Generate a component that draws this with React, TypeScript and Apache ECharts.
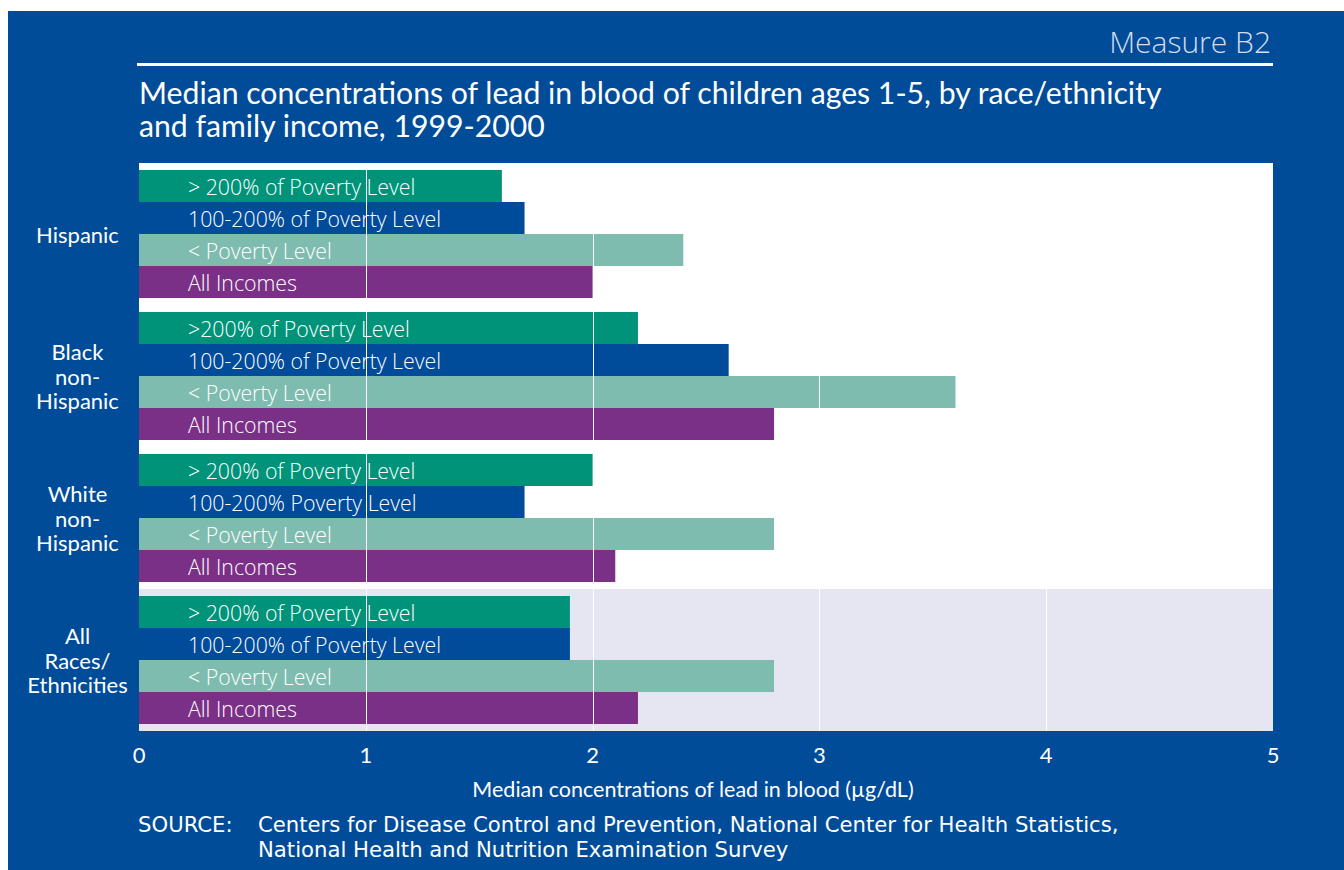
import React, { useEffect, useRef } from "react";
import * as echarts from "echarts";

const groups = ["Hispanic", "Black\nnon-\nHispanic", "White\nnon-\nHispanic", "All\nRaces/\nEthnicities"];
const barLabels = [
  ["> 200% of Poverty Level", "100-200% of Poverty Level", "< Poverty Level", "All Incomes"],
  [">200% of Poverty Level", "100-200% of Poverty Level", "< Poverty Level", "All Incomes"],
  ["> 200% of Poverty Level", "100-200% Poverty Level", "< Poverty Level", "All Incomes"],
  ["> 200% of Poverty Level", "100-200% of Poverty Level", "< Poverty Level", "All Incomes"],
];
const hispanic = [1.6, 1.7, 2.4, 2.0];
const blackNonHispanic = [2.2, 2.6, 3.6, 2.8];
const whiteNonHispanic = [2.0, 1.7, 2.8, 2.1];
const allRaces = [1.9, 1.9, 2.8, 2.2];
const groupValues = [hispanic, blackNonHispanic, whiteNonHispanic, allRaces];
const xTicks = [0, 1, 2, 3, 4, 5];
const gridValues = [1, 2, 3, 4];

const barColors = ["#00937A", "#004C9B", "#7FBCB0", "#7B3087"];
const bandColors = ["#FFFFFF", "#FFFFFF", "#FFFFFF", "#E6E6F2"];
const BG = "#004C99";
const FONT = "Lato, 'Open Sans', sans-serif";
const BAR_FONT = "'Open Sans', Lato, sans-serif";
const SOURCE_FONT = "'DejaVu Sans', Lato, sans-serif";

const BAR = 1;
const GAP = 0.4375;
const PAD = GAP / 2;
const SPAN = 4 * BAR + GAP;
const Y_MAX = groups.length * SPAN;

export default function App() {
  const ref = useRef<HTMLDivElement>(null);
  useEffect(() => {
    if (!ref.current) return;
    const chart = echarts.init(ref.current, null, { renderer: "svg" });

    const barData: any[] = [];
    const barText: string[] = [];
    groupValues.forEach((vals, gi) => {
      vals.forEach((v, k) => {
        barData.push([v, gi * SPAN + PAD + k * BAR, k]);
        barText.push(barLabels[gi][k]);
      });
    });

    const option: any = {
      animation: false,
      backgroundColor: BG,
      grid: { left: 131, top: 152, width: 1134, height: 568 },
      xAxis: {
        type: "value",
        min: 0,
        max: 5,
        interval: 1,
        axisLine: { show: false },
        axisTick: { show: false },
        splitLine: { show: false },
        axisLabel: {
          color: "#FFFFFF",
          fontSize: 22,
          fontFamily: FONT,
          margin: 12,
          formatter: (v: number) => (xTicks.includes(v) ? String(v) : ""),
        },
      },
      yAxis: {
        type: "value",
        min: 0,
        max: Y_MAX,
        inverse: true,
        show: false,
        splitLine: { show: false },
      },
      series: [
        {
          type: "custom",
          z: 1,
          silent: true,
          data: groups.map((_, gi) => [gi]),
          encode: { x: -1, y: 0 },
          renderItem: (params: any, api: any) => {
            const gi = api.value(0);
            const p0 = api.coord([0, gi * SPAN]);
            const p1 = api.coord([5, (gi + 1) * SPAN]);
            return {
              type: "rect",
              shape: { x: p0[0], y: p0[1], width: p1[0] - p0[0], height: p1[1] - p0[1] },
              style: { fill: bandColors[gi] },
            };
          },
        },
        {
          type: "custom",
          z: 2,
          silent: true,
          data: barData,
          encode: { x: 0, y: 1 },
          renderItem: (params: any, api: any) => {
            const v = api.value(0);
            const ys = api.value(1);
            const k = api.value(2);
            const p0 = api.coord([0, ys]);
            const p1 = api.coord([v, ys + BAR]);
            return {
              type: "group",
              children: [
                {
                  type: "rect",
                  shape: { x: p0[0], y: p0[1], width: p1[0] - p0[0], height: p1[1] - p0[1] },
                  style: { fill: barColors[k] },
                },
                {
                  type: "text",
                  style: {
                    text: barText[params.dataIndex],
                    x: p0[0] + 49,
                    y: (p0[1] + p1[1]) / 2 + 0.5,
                    fill: "#FFFFFF",
                    fontSize: 21.3,
                    fontWeight: 300,
                    fontFamily: BAR_FONT,
                    align: "left",
                    verticalAlign: "middle",
                  },
                },
              ],
            };
          },
        },
        {
          type: "custom",
          z: 3,
          silent: true,
          data: gridValues.map((v) => [v]),
          encode: { x: 0 },
          renderItem: (params: any, api: any) => {
            const v = api.value(0);
            const p0 = api.coord([v, 0]);
            const p1 = api.coord([v, Y_MAX]);
            return {
              type: "line",
              shape: { x1: Math.round(p0[0]) + 0.5, y1: p0[1], x2: Math.round(p0[0]) + 0.5, y2: p1[1] },
              style: { stroke: "#FFFFFF", lineWidth: 1 },
            };
          },
        },
        {
          type: "custom",
          z: 4,
          silent: true,
          clip: false,
          data: groups.map((_, gi) => [gi]),
          encode: { x: -1, y: 0 },
          renderItem: (params: any, api: any) => {
            const gi = api.value(0);
            const p = api.coord([0, gi * SPAN + SPAN / 2]);
            return {
              type: "text",
              style: {
                text: groups[gi],
                x: 69.5,
                y: p[1],
                fill: "#FFFFFF",
                fontSize: 22,
                lineHeight: 24.5,
                fontFamily: FONT,
                align: "center",
                verticalAlign: "middle",
              },
            };
          },
        },
      ],
      graphic: [
        {
          type: "text",
          right: 73,
          top: 15,
          style: {
            text: "Measure B2",
            fill: "#D5DCEC",
            fontSize: 30,
            fontWeight: 300,
            fontFamily: BAR_FONT,
          },
        },
        {
          type: "line",
          shape: { x1: 129, y1: 53.5, x2: 1265, y2: 53.5 },
          style: { stroke: "#FFFFFF", lineWidth: 3 },
        },
        {
          type: "text",
          x: 131,
          y: 80.5,
          style: {
            text: "Median concentrations of lead in blood of children ages 1-5, by race/ethnicity",
            fill: "#FFFFFF",
            fontSize: 30.2,
            fontFamily: FONT,
            verticalAlign: "middle",
          },
        },
        {
          type: "text",
          x: 131,
          y: 114,
          style: {
            text: "and family income, 1999-2000",
            fill: "#FFFFFF",
            fontSize: 30.2,
            fontFamily: FONT,
            verticalAlign: "middle",
          },
        },
        {
          type: "text",
          x: 685,
          y: 778,
          style: {
            text: "Median concentrations of lead in blood (\u00B5g/dL)",
            fill: "#FFFFFF",
            fontSize: 21.5,
            fontFamily: FONT,
            align: "center",
            verticalAlign: "middle",
          },
        },
        {
          type: "text",
          x: 130,
          y: 813,
          style: {
            text: "SOURCE:",
            fill: "#FFFFFF",
            fontSize: 21.2,
            fontFamily: SOURCE_FONT,
            verticalAlign: "middle",
          },
        },
        {
          type: "text",
          x: 250,
          y: 813,
          style: {
            text: "Centers for Disease Control and Prevention, National Center for Health Statistics,",
            fill: "#FFFFFF",
            fontSize: 21.2,
            fontFamily: SOURCE_FONT,
            verticalAlign: "middle",
          },
        },
        {
          type: "text",
          x: 250,
          y: 838,
          style: {
            text: "National Health and Nutrition Examination Survey",
            fill: "#FFFFFF",
            fontSize: 21.2,
            fontFamily: SOURCE_FONT,
            verticalAlign: "middle",
          },
        },
      ],
    };
    chart.setOption(option);
    return () => chart.dispose();
  }, []);

  return (
    <div
      ref={ref}
      style={{ position: "fixed", left: 8, top: 11, width: 1336, height: 859 }}
    />
  );
}
